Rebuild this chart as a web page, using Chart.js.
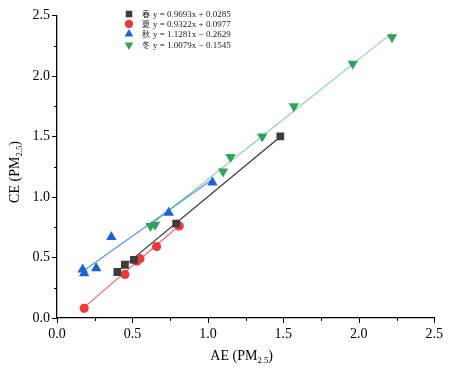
<!DOCTYPE html>
<html>
<head>
<meta charset="utf-8">
<script src="https://cdn.jsdelivr.net/npm/chart.js@4.4.0/dist/chart.umd.min.js"></script>
<style>
    html, body { margin: 0; padding: 0; background: #fff; }
    #wrap { width: 451px; height: 373px; }
</style>
</head>
<body>
<div id="wrap"><canvas id="ceChart" width="451" height="373"></canvas></div>
<script>
// values
const seasons = ['春', '夏', '秋', '冬'];
// legend equations are AE = a * CE + b
const slopes = [0.9693, 0.9322, 1.1281, 1.0079];
const intercepts = [0.0285, 0.0977, -0.2629, -0.1545];

const springX = [0.40, 0.45, 0.51, 0.79, 1.48];
const springY = [0.38, 0.44, 0.48, 0.78, 1.50];
const summerX = [0.18, 0.45, 0.53, 0.55, 0.66, 0.81];
const summerY = [0.08, 0.36, 0.47, 0.49, 0.59, 0.76];
const autumnX = [0.17, 0.18, 0.26, 0.36, 0.74, 1.03];
const autumnY = [0.40, 0.37, 0.41, 0.67, 0.87, 1.12];
const winterX = [0.62, 0.65, 1.10, 1.15, 1.36, 1.57, 1.96, 2.22];
const winterY = [0.76, 0.77, 1.21, 1.33, 1.50, 1.75, 2.10, 2.32];

const xTicks = [0, 0.5, 1.0, 1.5, 2.0, 2.5];
const yTicks = [0, 0.5, 1.0, 1.5, 2.0, 2.5];

const seriesX = [springX, summerX, autumnX, winterX];
const seriesY = [springY, summerY, autumnY, winterY];
const markerColors = ['#3d3d3d', '#ee3a3a', '#1c64d4', '#2fa35c'];
const lineColors = ['#2a2a2a', '#f06464', '#5591e6', '#84d2a2'];
const pointStyles = ['rect', 'circle', 'triangle', 'triangle'];
const pointRotations = [0, 0, 0, 180];
const pointSizes = [5.5, 4.6, 6, 6];

const SERIF = "'Liberation Serif', serif";
const CJK = "'Noto Sans CJK SC', serif";

function toPoints(xs, ys) {
    return xs.map((x, i) => ({ x: x, y: ys[i] }));
}

// fitted line between the smallest and largest AE of the season,
// CE solved from AE = a * CE + b
function fitLine(i) {
    const xs = seriesX[i];
    const lo = Math.min(...xs);
    const hi = Math.max(...xs);
    return [
        { x: lo, y: (lo - intercepts[i]) / slopes[i] },
        { x: hi, y: (hi - intercepts[i]) / slopes[i] }
    ];
}

function equationText(i) {
    const b = intercepts[i];
    const sign = b < 0 ? ' \u2212 ' : ' + ';
    return 'y = ' + slopes[i].toFixed(4) + 'x' + sign + Math.abs(b).toFixed(4);
}

const datasets = [];
seasons.forEach((name, i) => {
    datasets.push({
        label: name + ' fit',
        data: fitLine(i),
        showLine: true,
        borderColor: lineColors[i],
        borderWidth: 1.1,
        pointRadius: 0,
        order: 2
    });
});
seasons.forEach((name, i) => {
    datasets.push({
        label: name,
        data: toPoints(seriesX[i], seriesY[i]),
        pointStyle: pointStyles[i],
        rotation: pointRotations[i],
        pointRadius: pointSizes[i],
        backgroundColor: markerColors[i],
        borderColor: markerColors[i],
        borderWidth: 0,
        order: 1
    });
});

// draws a title like "CE (PM2.5)" with the 2.5 lowered
function drawSubTitle(ctx, pre, sub, post, size) {
    ctx.font = size + 'px ' + SERIF;
    const w1 = ctx.measureText(pre).width;
    ctx.font = (size * 0.62) + 'px ' + SERIF;
    const w2 = ctx.measureText(sub).width;
    ctx.font = size + 'px ' + SERIF;
    const w3 = ctx.measureText(post).width;
    let x = -(w1 + w2 + w3) / 2;
    ctx.textAlign = 'left';
    ctx.textBaseline = 'middle';
    ctx.fillText(pre, x, 0);
    x += w1;
    ctx.font = (size * 0.62) + 'px ' + SERIF;
    ctx.fillText(sub, x, size * 0.32);
    x += w2;
    ctx.font = size + 'px ' + SERIF;
    ctx.fillText(post, x, 0);
}

const decorPlugin = {
    id: 'decor',
    afterDraw(chart) {
        const ctx = chart.ctx;
        const xs = chart.scales.x;
        const ys = chart.scales.y;
        const area = chart.chartArea;
        ctx.save();
        ctx.strokeStyle = '#000';
        ctx.lineWidth = 1;
        // major and minor tick marks, pointing outward
        for (let v = 0; v <= 2.5001; v += 0.25) {
            const major = Math.abs(v / 0.5 - Math.round(v / 0.5)) < 1e-6;
            const len = major ? 5 : 3;
            const px = Math.round(xs.getPixelForValue(v)) + 0.5;
            ctx.beginPath();
            ctx.moveTo(px, area.bottom);
            ctx.lineTo(px, area.bottom + len);
            ctx.stroke();
            const py = Math.round(ys.getPixelForValue(v)) + 0.5;
            ctx.beginPath();
            ctx.moveTo(area.left, py);
            ctx.lineTo(area.left - len, py);
            ctx.stroke();
        }

        // axis titles
        ctx.fillStyle = '#000';
        ctx.save();
        ctx.translate((area.left + area.right) / 2 - 4, 356);
        drawSubTitle(ctx, 'AE (PM', '2.5', ')', 14);
        ctx.restore();
        ctx.save();
        ctx.translate(15, 172);
        ctx.rotate(-Math.PI / 2);
        drawSubTitle(ctx, 'CE (PM', '2.5', ')', 14);
        ctx.restore();

        // legend
        const rowY = [14, 24, 34, 45];
        seasons.forEach((name, i) => {
            const y = rowY[i];
            ctx.fillStyle = markerColors[i];
            Chart.helpers.drawPoint(ctx, {
                pointStyle: pointStyles[i],
                rotation: pointRotations[i],
                radius: i < 2 ? (i === 0 ? 4.6 : 4.2) : 5,
                borderWidth: 0
            }, 129, y);
            ctx.fillStyle = '#222';
            ctx.textAlign = 'left';
            ctx.textBaseline = 'middle';
            ctx.font = '8px ' + CJK;
            ctx.fillText(name, 142, y);
            ctx.font = '9px ' + SERIF;
            ctx.fillText(equationText(i), 153, y + 0.5);
        });
        ctx.restore();
    }
};

const config = {
    type: 'scatter',
    data: { datasets: datasets },
    options: {
        responsive: false,
        animation: false,
        layout: { padding: { top: 15, right: 16, left: 0, bottom: 0 } },
        plugins: {
            legend: { display: false },
            tooltip: { enabled: false }
        },
        scales: {
            x: {
                type: 'linear',
                min: 0,
                max: 2.5,
                afterBuildTicks: (scale) => { scale.ticks = xTicks.map(v => ({ value: v })); },
                afterFit: (scale) => { scale.height = 55; },
                ticks: {
                    font: { family: SERIF, size: 14 },
                    color: '#000',
                    padding: 8,
                    maxRotation: 0,
                    callback: (v) => Number(v).toFixed(1)
                },
                grid: { display: true, drawOnChartArea: false, drawTicks: false },
                border: { display: true, color: '#000', width: 1.3 }
            },
            y: {
                type: 'linear',
                min: 0,
                max: 2.5,
                afterBuildTicks: (scale) => { scale.ticks = yTicks.map(v => ({ value: v })); },
                afterFit: (scale) => { scale.width = 57; },
                ticks: {
                    font: { family: SERIF, size: 14 },
                    color: '#000',
                    padding: 7,
                    callback: (v) => Number(v).toFixed(1)
                },
                grid: { display: true, drawOnChartArea: false, drawTicks: false },
                border: { display: true, color: '#000', width: 1.3 }
            }
        }
    },
    plugins: [decorPlugin]
};

const ctx = document.getElementById('ceChart').getContext('2d');
new Chart(ctx, config);
</script>
</body>
</html>
